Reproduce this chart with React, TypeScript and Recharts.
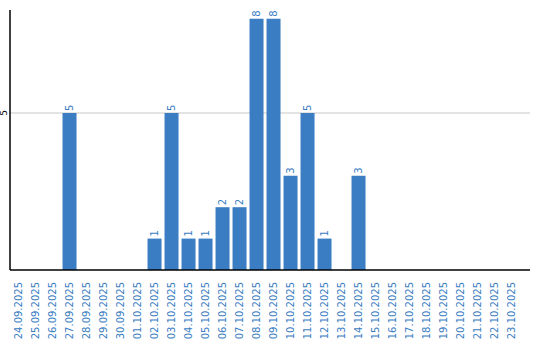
import { BarChart, Bar, XAxis, YAxis, CartesianGrid, LabelList } from 'recharts'

const dates = [
  '24.09.2025', '25.09.2025', '26.09.2025', '27.09.2025', '28.09.2025', '29.09.2025',
  '30.09.2025', '01.10.2025', '02.10.2025', '03.10.2025', '04.10.2025', '05.10.2025',
  '06.10.2025', '07.10.2025', '08.10.2025', '09.10.2025', '10.10.2025', '11.10.2025',
  '12.10.2025', '13.10.2025', '14.10.2025', '15.10.2025', '16.10.2025', '17.10.2025',
  '18.10.2025', '19.10.2025', '20.10.2025', '21.10.2025', '22.10.2025', '23.10.2025',
]
const counts = [0, 0, 0, 5, 0, 0, 0, 0, 1, 5, 1, 1, 2, 2, 8, 8, 3, 5, 1, 0, 3, 0, 0, 0, 0, 0, 0, 0, 0, 0]
const yTicks = [5]

const BLUE = '#3a7dc2'
const FONT = 'DejaVu Sans, Verdana, sans-serif'

const data = dates.map((d, i) => ({ date: d, count: counts[i] }))

function XTick({ x, y, payload }: any) {
  return (
    <text
      x={x}
      y={y + 4}
      dy="0.36em"
      transform={`rotate(-90 ${x} ${y + 4})`}
      textAnchor="end"
      fill={BLUE}
      fontSize={10}
      fontFamily={FONT}
    >
      {payload.value}
    </text>
  )
}

function YTick({ y, payload }: any) {
  const x = 4
  return (
    <text
      x={x}
      y={y}
      dy="0.36em"
      transform={`rotate(-90 ${x} ${y})`}
      textAnchor="middle"
      fill="#000"
      fontSize={9}
      fontFamily={FONT}
    >
      {payload.value}
    </text>
  )
}

function BarLabel({ x, y, width, value }: any) {
  if (!value) return null
  const cx = x + width / 2
  const ty = y - 2
  return (
    <text
      x={cx}
      y={ty}
      dy="0.36em"
      transform={`rotate(-90 ${cx} ${ty})`}
      textAnchor="start"
      fill={BLUE}
      fontSize={10}
      fontFamily={FONT}
    >
      {value}
    </text>
  )
}

export default function App() {
  return (
    <div style={{ position: 'absolute', left: 0, top: 0, background: '#fff' }}>
      <BarChart
        width={540}
        height={340}
        data={data}
        margin={{ top: 10, right: 10, bottom: 0, left: 0 }}
        barCategoryGap="9%"
      >
        <CartesianGrid vertical={false} horizontalValues={yTicks} stroke="#c8c8c8" />
        <XAxis
          dataKey="date"
          interval={0}
          height={70}
          tickLine={false}
          axisLine={{ stroke: '#000', strokeWidth: 1.5 }}
          padding={{ left: 0, right: 10 }}
          tick={<XTick />}
        />
        <YAxis
          width={10}
          domain={[0, 8.28]}
          ticks={yTicks}
          tickLine={false}
          axisLine={{ stroke: '#000', strokeWidth: 1.5 }}
          tick={<YTick />}
        />
        <Bar dataKey="count" fill={BLUE} isAnimationActive={false}>
          <LabelList dataKey="count" content={<BarLabel />} />
        </Bar>
      </BarChart>
    </div>
  )
}
